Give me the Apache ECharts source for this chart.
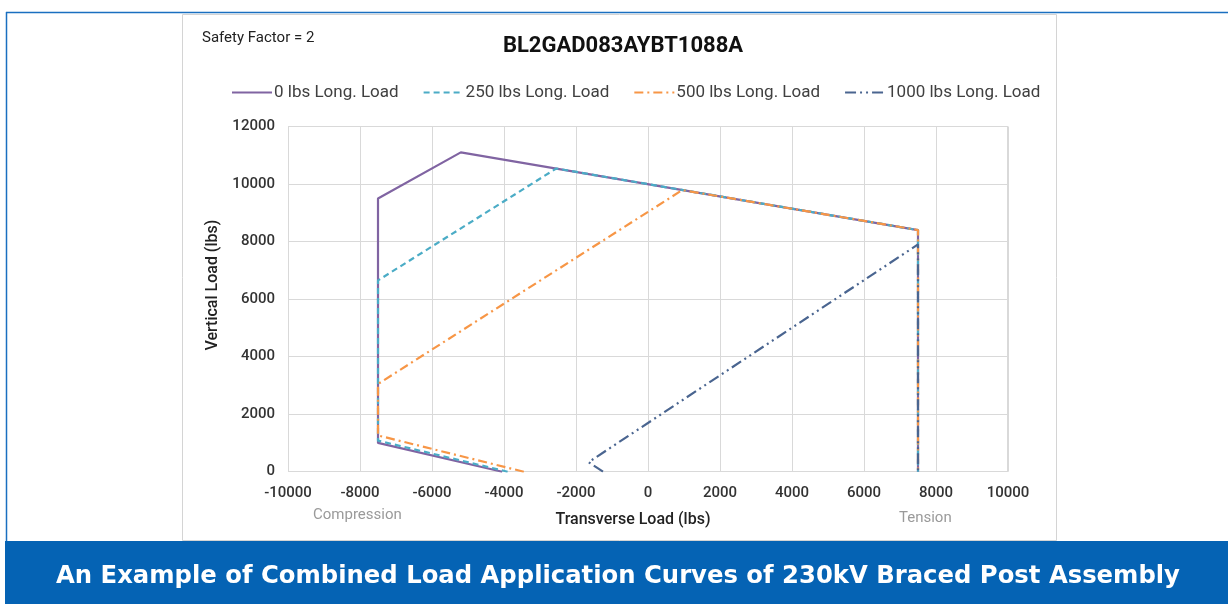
<!DOCTYPE html>
<html>
<head>
<meta charset="utf-8">
<script src="https://cdn.jsdelivr.net/npm/echarts@6/dist/echarts.min.js"></script>
<style>
  html, body { margin: 0; padding: 0; background: #fff; }
  #main { width: 1228px; height: 604px; }
</style>
</head>
<body>
<div id="main"></div>
<script>
// series names and [transverse, vertical] points
var seriesNames = ['0 lbs Long. Load', '250 lbs Long. Load', '500 lbs Long. Load', '1000 lbs Long. Load'];
var load0 = [[-4050, 0], [-7500, 1000], [-7500, 9500], [-5200, 11100], [7500, 8400], [7500, 0]];
var load250 = [[-3900, 0], [-7500, 1080], [-7500, 6650], [-2550, 10540], [7500, 8400], [7500, 0]];
var load500 = [[-3450, 0], [-7500, 1260], [-7500, 3050], [950, 9790], [7500, 8400], [7500, 0]];
var load1000 = [[-1250, 0], [-1650, 330], [7500, 7900], [7500, 0]];
var xTicks = [-10000, -8000, -6000, -4000, -2000, 0, 2000, 4000, 6000, 8000, 10000];
var yTicks = [0, 2000, 4000, 6000, 8000, 10000, 12000];

var colors = ['#8064A2', '#4BACC6', '#F79646', '#4A6590'];
var dashes = ['solid', [6, 4], [9, 4, 2, 4], [11, 4, 2, 4, 2, 4]];
var allData = [load0, load250, load500, load1000];

var font = 'Roboto, "Noto Sans", sans-serif';

var chart = echarts.init(document.getElementById('main'));

// later series sit on top, like the spreadsheet original
var series = seriesNames.map(function (name, i) {
  return {
    name: name,
    type: 'line',
    data: allData[i],
    symbol: 'none',
    z: 2 + i,
    lineStyle: { color: colors[i], width: 2.2, type: dashes[i] },
    itemStyle: { color: colors[i] }
  };
});

chart.setOption({
  backgroundColor: '#fff',
  animation: false,
  textStyle: { fontFamily: font },
  title: {
    text: 'BL2GAD083AYBT1088A',
    left: 618,
    textAlign: 'center',
    top: 30,
    textStyle: { fontSize: 22, fontWeight: 'bold', color: '#111', fontFamily: font }
  },
  legend: {
    top: 84,
    left: 231,
    padding: 0,
    itemWidth: 40,
    itemHeight: 12,
    itemGap: 24,
    data: seriesNames,
    itemStyle: { opacity: 0 },
    textStyle: { fontSize: 17, color: '#404040', padding: [0, 0, 0, -3] }
  },
  grid: { left: 288, right: 220, top: 126.5, bottom: 132.3 },
  xAxis: {
    type: 'value',
    min: xTicks[0],
    max: xTicks[xTicks.length - 1],
    interval: 2000,
    name: 'Transverse Load (lbs)',
    nameLocation: 'middle',
    nameGap: 40,
    nameTextStyle: { fontSize: 16, color: '#222', fontWeight: 500, padding: [0, 30, 0, 0] },
    axisLine: { show: false },
    axisTick: { show: false },
    axisLabel: { fontSize: 15, color: '#333', fontWeight: 500, margin: 14, formatter: function (v) { return String(v); } },
    splitLine: { lineStyle: { color: '#d9d9d9', width: 1 } }
  },
  yAxis: {
    type: 'value',
    min: yTicks[0],
    max: yTicks[yTicks.length - 1],
    interval: 2000,
    name: 'Vertical Load (lbs)',
    nameLocation: 'middle',
    nameGap: 66,
    nameTextStyle: { fontSize: 16, color: '#222', fontWeight: 500, padding: [0, 0, 0, 28] },
    axisLine: { show: false },
    axisTick: { show: false },
    axisLabel: { fontSize: 15, color: '#333', fontWeight: 500, margin: 13, formatter: function (v) { return String(v); } },
    splitLine: { lineStyle: { color: '#d9d9d9', width: 1 } }
  },
  graphic: [
    // outer blue frame lines
    { type: 'line', shape: { x1: 6, y1: 12.5, x2: 1228, y2: 12.5 }, style: { stroke: '#1a6fc0', lineWidth: 1.5 }, z: 1 },
    { type: 'line', shape: { x1: 6.5, y1: 12, x2: 6.5, y2: 541 }, style: { stroke: '#1a6fc0', lineWidth: 1.5 }, z: 1 },
    // chart box
    { type: 'rect', shape: { x: 182.5, y: 14.5, width: 874, height: 526 }, style: { fill: 'none', stroke: '#d4d4d4', lineWidth: 1 }, z: 1 },
    // right edge of the grid
    { type: 'line', shape: { x1: 1007.5, y1: 126.5, x2: 1007.5, y2: 471.7 }, style: { stroke: '#d9d9d9', lineWidth: 1 }, z: 1 },
    { type: 'text', left: 202, top: 31, style: { text: 'Safety Factor = 2', font: '15px ' + font, fill: '#222' } },
    { type: 'text', left: 313, top: 508, style: { text: 'Compression', font: '15px ' + font, fill: '#9a9a9a' } },
    { type: 'text', left: 899, top: 511, style: { text: 'Tension', font: '15px ' + font, fill: '#9a9a9a' } },
    // caption banner
    { type: 'rect', shape: { x: 5, y: 541, width: 1223, height: 63 }, style: { fill: '#0563B4' }, z: 1 },
    {
      type: 'text', x: 618, y: 577, z: 2,
      style: {
        text: 'An Example of Combined Load Application Curves of 230kV Braced Post Assembly',
        font: 'bold 24.3px "DejaVu Sans", sans-serif',
        fill: '#fff',
        align: 'center',
        verticalAlign: 'middle'
      }
    }
  ],
  series: series
});
</script>
</body>
</html>
